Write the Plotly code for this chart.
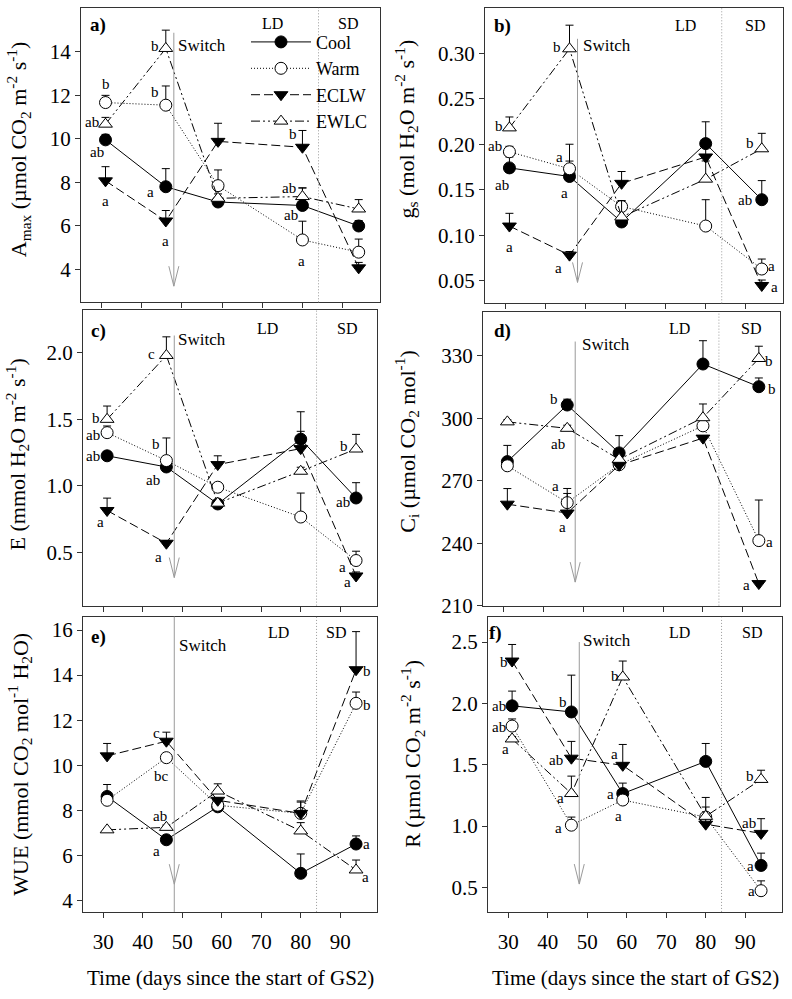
import plotly.graph_objects as go
from plotly.subplots import make_subplots

# ---------------- data ----------------
days = [31, 46, 59, 80, 94]
series_names = ["Cool", "Warm", "ECLW", "EWLC"]

# a) Amax
amax_cool = [9.95, 7.80, 7.10, 6.94, 6.00]
amax_cool_se = [0.25, 0.83, 0.20, 0.80, 0.25]
amax_warm = [11.66, 11.54, 7.85, 5.36, 4.80]
amax_warm_se = [0.33, 0.88, 0.72, 0.86, 0.60]
amax_eclw = [8.07, 6.23, 9.88, 9.61, 4.08]
amax_eclw_se = [0.65, 0.48, 0.83, 0.77, 0.25]
amax_ewlc = [10.67, 14.14, 7.27, 7.35, 6.78]
amax_ewlc_se = [0.31, 0.84, 0.20, 0.40, 0.43]

# b) gs
gs_cool = [0.174, 0.1645, 0.1145, 0.2007, 0.139]
gs_cool_se = [0.012, 0.017, 0.005, 0.024, 0.021]
gs_warm = [0.1917, 0.173, 0.1315, 0.110, 0.0627]
gs_warm_se = [0.006, 0.027, 0.006, 0.029, 0.011]
gs_eclw = [0.110, 0.078, 0.157, 0.186, 0.0446]
gs_eclw_se = [0.014, 0.004, 0.013, 0.012, 0.006]
gs_ewlc = [0.218, 0.305, 0.120, 0.1616, 0.195]
gs_ewlc_se = [0.012, 0.026, 0.018, 0.020, 0.017]

# c) E
e_cool = [1.226, 1.142, 0.864, 1.351, 0.909]
e_cool_se = [0.03, 0.03, 0.02, 0.206, 0.115]
e_warm = [1.40, 1.19, 0.99, 0.766, 0.439]
e_warm_se = [0.05, 0.17, 0.03, 0.18, 0.07]
e_eclw = [0.815, 0.569, 1.16, 1.28, 0.323]
e_eclw_se = [0.093, 0.02, 0.066, 0.13, 0.03]
e_ewlc = [1.50, 1.98, 0.87, 1.11, 1.277]
e_ewlc_se = [0.10, 0.14, 0.02, 0.03, 0.11]

# d) Ci
ci_cool = [279.2, 306.4, 283.4, 326.1, 315.2]
ci_cool_se = [7.8, 2.8, 8.3, 11.2, 4.2]
ci_warm = [277.2, 259.5, 277.7, 296.4, 241.25]
ci_warm_se = [1.0, 6.8, 1.0, 4.2, 19.5]
ci_eclw = [258.75, 254.5, 277.5, 290.5, 220.6]
ci_eclw_se = [7.5, 9.4, 1.0, 1.0, 1.0]
ci_ewlc = [298.3, 295.2, 280.3, 300.3, 328.75]
ci_ewlc_se = [1.0, 1.5, 1.0, 6.6, 5.9]

# e) WUE
wue_cool = [8.62, 6.70, 8.16, 5.21, 6.51]
wue_cool_se = [0.53, 0.10, 0.10, 0.86, 0.36]
wue_warm = [8.45, 10.34, 8.23, 7.87, 12.75]
wue_warm_se = [0.10, 0.10, 0.10, 0.50, 0.50]
wue_eclw = [10.42, 11.07, 8.45, 7.87, 14.24]
wue_eclw_se = [0.55, 0.40, 0.10, 0.55, 1.69]
wue_ewlc = [7.14, 7.25, 8.86, 7.09, 5.36]
wue_ewlc_se = [0.05, 0.10, 0.32, 0.37, 0.44]

# f) R
r_cool = [1.98, 1.93, 1.265, 1.527, 0.679]
r_cool_se = [0.12, 0.30, 0.085, 0.146, 0.10]
r_warm = [1.815, 1.007, 1.212, 1.073, 0.473]
r_warm_se = [0.058, 0.066, 0.02, 0.02, 0.08]
r_eclw = [2.345, 1.553, 1.495, 1.015, 0.94]
r_eclw_se = [0.135, 0.137, 0.17, 0.14, 0.12]
r_ewlc = [1.71, 1.265, 2.215, 1.079, 1.38]
r_ewlc_se = [0.02, 0.142, 0.13, 0.154, 0.075]

# significance letters: (series, index of day, letter)
letters_a = [("Warm", 0, "b"), ("EWLC", 0, "ab"), ("Cool", 0, "ab"), ("ECLW", 0, "a"),
             ("EWLC", 1, "b"), ("Warm", 1, "b"), ("Cool", 1, "a"), ("ECLW", 1, "a"),
             ("ECLW", 3, "b"), ("EWLC", 3, "ab"), ("Cool", 3, "ab"), ("Warm", 3, "a")]
letters_b = [("EWLC", 0, "b"), ("Warm", 0, "ab"), ("Cool", 0, "ab"), ("ECLW", 0, "a"),
             ("EWLC", 1, "b"), ("Warm", 1, "a"), ("Cool", 1, "a"), ("ECLW", 1, "a"),
             ("EWLC", 4, "b"), ("Cool", 4, "ab"), ("Warm", 4, "a"), ("ECLW", 4, "a")]
letters_c = [("EWLC", 0, "b"), ("Warm", 0, "ab"), ("Cool", 0, "ab"), ("ECLW", 0, "a"),
             ("EWLC", 1, "c"), ("Warm", 1, "b"), ("Cool", 1, "ab"), ("ECLW", 1, "a"),
             ("EWLC", 4, "b"), ("Cool", 4, "ab"), ("Warm", 4, "a"), ("ECLW", 4, "a")]
letters_d = [("Cool", 1, "b"), ("EWLC", 1, "ab"), ("Warm", 1, "a"), ("ECLW", 1, "a"),
             ("EWLC", 4, "b"), ("Cool", 4, "b"), ("Warm", 4, "a"), ("ECLW", 4, "a")]
letters_e = [("ECLW", 1, "c"), ("Warm", 1, "bc"), ("EWLC", 1, "ab"), ("Cool", 1, "a"),
             ("ECLW", 4, "b"), ("Warm", 4, "b"), ("Cool", 4, "a"), ("EWLC", 4, "a")]
letters_f = [("ECLW", 0, "b"), ("Cool", 0, "ab"), ("Warm", 0, "ab"), ("EWLC", 0, "a"),
             ("Cool", 1, "b"), ("ECLW", 1, "ab"), ("EWLC", 1, "a"), ("Warm", 1, "a"),
             ("EWLC", 2, "b"), ("ECLW", 2, "a"), ("Cool", 2, "a"), ("Warm", 2, "a"),
             ("EWLC", 4, "b"), ("ECLW", 4, "ab"), ("Cool", 4, "a"), ("Warm", 4, "a")]

# pixel offsets of the letters from their point (dx right, dy down)
offs_a = [(0, -19), (-14, -2), (-9, 12), (0, 20), (-11, -2), (-11, -13), (-15, 5), (0, 20),
          (-9, -13), (-13, -9), (-11, 10), (-1, 21)]
offs_b = [(-10, -2), (-14, -6), (-7, 17), (0, 21), (-13, -2), (-10, -12), (-5, 16), (-11, 13),
          (-12, -6), (-17, 0), (10, -3), (13, 2)]
offs_c = [(-11, -1), (-14, 2), (-14, 0), (-7, 12), (-15, -1), (-10, -17), (-13, 13), (-8, 14),
          (-12, -3), (-13, 4), (-14, 6), (-9, 6)]
offs_d = [(-13, -6), (-9, 16), (-12, -17), (-5, 14), (10, 2), (13, 2), (11, 1), (-12, 1)]
offs_e = [(-10, -8), (-5, 18), (-6, -11), (-10, 11), (11, 1), (11, 2), (10, 0), (9, 7)]
offs_f = [(-8, 1), (-13, 0), (-13, 1), (-7, 10), (-8, -10), (-15, 2), (-11, 4), (-13, 3),
          (-8, -1), (-8, -11), (-12, 0), (-4, 16), (-11, -3), (-12, -10), (-11, 1), (-10, 0)]

switch_day = 48
sd_start_day = 84

ytitles = [
    "A<sub>max</sub> (µmol CO<sub>2</sub> m<sup>-2</sup> s<sup>-1</sup>)",
    "g<sub>s</sub> (mol H<sub>2</sub>O m<sup>-2</sup> s<sup>-1</sup>)",
    "E (mmol H<sub>2</sub>O m<sup>-2</sup> s<sup>-1</sup>)",
    "C<sub>i</sub> (µmol CO<sub>2</sub> mol<sup>-1</sup>)",
    "WUE (mmol CO<sub>2</sub> mol<sup>-1</sup> H<sub>2</sub>O)",
    "R (µmol CO<sub>2</sub> m<sup>-2</sup> s<sup>-1</sup>)",
]
xtitle = "Time (days since the start of GS2)"
panel_tags = ["a)", "b)", "c)", "d)", "e)", "f)"]

panels = [
    dict(vals=[amax_cool, amax_warm, amax_eclw, amax_ewlc],
         se=[amax_cool_se, amax_warm_se, amax_eclw_se, amax_ewlc_se],
         letters=letters_a, offs=offs_a, yrange=[2.5, 16], ytick=[4, 6, 8, 10, 12, 14], fmt="",
         arrow=(14.86, 3.24)),
    dict(vals=[gs_cool, gs_warm, gs_eclw, gs_ewlc],
         se=[gs_cool_se, gs_warm_se, gs_eclw_se, gs_ewlc_se],
         letters=letters_b, offs=offs_b, yrange=[0.025, 0.35],
         ytick=[0.05, 0.10, 0.15, 0.20, 0.25, 0.30], fmt=".2f", arrow=(0.316, 0.048)),
    dict(vals=[e_cool, e_warm, e_eclw, e_ewlc],
         se=[e_cool_se, e_warm_se, e_eclw_se, e_ewlc_se],
         letters=letters_c, offs=offs_c, yrange=[0.1, 2.32], ytick=[0.5, 1.0, 1.5, 2.0],
         fmt=".1f", arrow=(2.13, 0.311)),
    dict(vals=[ci_cool, ci_warm, ci_eclw, ci_ewlc],
         se=[ci_cool_se, ci_warm_se, ci_eclw_se, ci_ewlc_se],
         letters=letters_d, offs=offs_d, yrange=[210, 351], ytick=[210, 240, 270, 300, 330],
         fmt="", arrow=(336.9, 221.3)),
    dict(vals=[wue_cool, wue_warm, wue_eclw, wue_ewlc],
         se=[wue_cool_se, wue_warm_se, wue_eclw_se, wue_ewlc_se],
         letters=letters_e, offs=offs_e, yrange=[3.5, 16.6], ytick=[4, 6, 8, 10, 12, 14, 16],
         fmt="", arrow=(None, 4.73)),
    dict(vals=[r_cool, r_warm, r_eclw, r_ewlc],
         se=[r_cool_se, r_warm_se, r_eclw_se, r_ewlc_se],
         letters=letters_f, offs=offs_f, yrange=[0.3, 2.7], ytick=[0.5, 1.0, 1.5, 2.0, 2.5],
         fmt=".1f", arrow=(2.5, 0.527)),
]

# ---------------- styling ----------------
W, H = 792, 999
FONT = "Liberation Serif"
# panel boxes in pixels: (left, right, top, bottom)
boxes = [(81, 380, 8, 306), (485, 783, 8, 307),
         (83, 377, 314, 613), (483, 780, 316, 613),
         (83, 377, 624, 923), (488, 782, 625, 923)]
# header text pixel positions: tag, LD, SD, Switch
headers = [
    [(98, 25), (272, 24), (348, 24), (202, 46)],
    [(502, 26), (685, 26), (755, 26), (607, 46)],
    [(98, 335), (267, 333), (347, 333), (202, 344)],
    [(503, 335), (679, 333), (751, 333), (606, 349)],
    [(98, 645), (278, 640), (336, 640), (203, 653)],
    [(495, 641), (679, 640), (752, 640), (607, 648)],
]
# y-title centre pixel positions
ytitle_pos = [(18, 151), (406, 131), (17, 460), (407, 447), (20, 774), (413, 763)]
xtitle_y = 990

styles = {
    "Cool": dict(dash="solid", symbol="circle", fill="black", size=12),
    "Warm": dict(dash="1px,2px", symbol="circle", fill="white", size=12),
    "ECLW": dict(dash="9px,4px", symbol="triangle-down", fill="black", size=12),
    "EWLC": dict(dash="9px,3px,2px,3px,2px,3px", symbol="triangle-up", fill="white", size=12),
}


def px(x):
    return x / W


def py(y):
    return 1 - y / H


fig = make_subplots(rows=3, cols=2)

for p_i, p in enumerate(panels):
    row, col = p_i // 2 + 1, p_i % 2 + 1
    for s_i, name in enumerate(series_names):
        st = styles[name]
        fig.add_trace(go.Scatter(
            x=days, y=p["vals"][s_i], name=name, mode="lines+markers",
            showlegend=(p_i == 0),
            line=dict(color="black", width=1, dash=st["dash"]),
            marker=dict(symbol=st["symbol"], size=st["size"], color=st["fill"],
                        line=dict(color="black", width=1)),
            error_y=dict(type="data", symmetric=False, array=p["se"][s_i],
                         arrayminus=[0] * len(days), color="black", thickness=1, width=4),
        ), row=row, col=col)

annotations = []
shapes = []


def ann(text, x, y, size, **kw):
    d = dict(text=text, x=x, y=y, xref="paper", yref="paper", showarrow=False,
             xanchor="center", yanchor="middle",
             font=dict(size=size, family=FONT, color="black"))
    d.update(kw)
    annotations.append(d)


for p_i, p in enumerate(panels):
    n = p_i + 1
    xa = "x" if n == 1 else f"x{n}"
    ya = "y" if n == 1 else f"y{n}"
    l, r, t, b = boxes[p_i]
    fig.layout[f"xaxis{'' if n == 1 else n}"].update(
        domain=[px(l), px(r)], range=[24.9, 99.3], tickvals=[30, 40, 50, 60, 70, 80, 90],
        showticklabels=(p_i >= 4), ticks="outside", ticklen=5, tickcolor="#333",
        ticklabelstandoff=6,
        showline=True, mirror=True, linecolor="#333", linewidth=1, showgrid=False,
        zeroline=False, tickfont=dict(size=21, family=FONT, color="black"),
    )
    fig.layout[f"yaxis{'' if n == 1 else n}"].update(
        domain=[py(b), py(t)], range=p["yrange"], tickvals=p["ytick"], tickformat=p["fmt"],
        ticks="outside", ticklen=5, tickcolor="#333",
        showline=True, mirror=True, linecolor="#333", linewidth=1, showgrid=False,
        zeroline=False, tickfont=dict(size=21, family=FONT, color="black"),
    )
    # axis titles
    tx_, ty_ = ytitle_pos[p_i]
    ann(ytitles[p_i], px(tx_), py(ty_), 22, textangle=-90)
    if p_i >= 4:
        ann(xtitle, px((l + r) / 2), py(xtitle_y), 21)
    # SD boundary
    shapes.append(dict(type="line", xref=xa, yref=f"{ya} domain", x0=sd_start_day,
                       x1=sd_start_day, y0=0, y1=1,
                       line=dict(color="#9a9a9a", width=1, dash="1px,2px")))
    # switch arrow
    top, tip = p["arrow"]
    if top is None:
        shapes.append(dict(type="line", xref=xa, yref=f"{ya} domain", x0=switch_day,
                           x1=switch_day, y0=0, y1=1, line=dict(color="#9a9a9a", width=1)))
    else:
        shapes.append(dict(type="line", xref=xa, yref=ya, x0=switch_day, x1=switch_day,
                           y0=top, y1=tip, line=dict(color="#9a9a9a", width=1)))
    for sgn in (-1, 1):
        shapes.append(dict(type="line", xref=xa, yref=ya, xsizemode="pixel",
                           ysizemode="pixel", xanchor=switch_day, yanchor=tip,
                           x0=0, x1=sgn * 5, y0=0, y1=20,
                           line=dict(color="#9a9a9a", width=1)))
    # header texts
    (tx, ty), (ldx, ldy), (sdx, sdy), (swx, swy) = headers[p_i]
    ann(f"<b>{panel_tags[p_i]}</b>", px(tx), py(ty), 19)
    ann("LD", px(ldx), py(ldy), 16)
    ann("SD", px(sdx), py(sdy), 16)
    ann("Switch", px(swx), py(swy), 17)
    # significance letters
    for (sname, di, letter), (dx, dy) in zip(p["letters"], p["offs"]):
        s_i = series_names.index(sname)
        annotations.append(dict(text=letter, x=days[di], y=p["vals"][s_i][di], xref=xa, yref=ya,
                                xshift=dx, yshift=-dy, showarrow=False,
                                xanchor="center", yanchor="middle",
                                font=dict(size=15, family=FONT, color="black")))

fig.update_layout(
    width=W, height=H, margin=dict(l=0, r=0, t=0, b=0),
    paper_bgcolor="white", plot_bgcolor="white",
    font=dict(family=FONT, color="black"),
    showlegend=True,
    legend=dict(x=px(246), y=py(24), xanchor="left", yanchor="top",
                bgcolor="rgba(0,0,0,0)", font=dict(size=18, family=FONT, color="black"),
                itemwidth=60, tracegroupgap=0),
    annotations=annotations, shapes=shapes,
)

fig.write_html("out.html", config={"displayModeBar": False},
               post_script="document.body.style.margin='0px';")
